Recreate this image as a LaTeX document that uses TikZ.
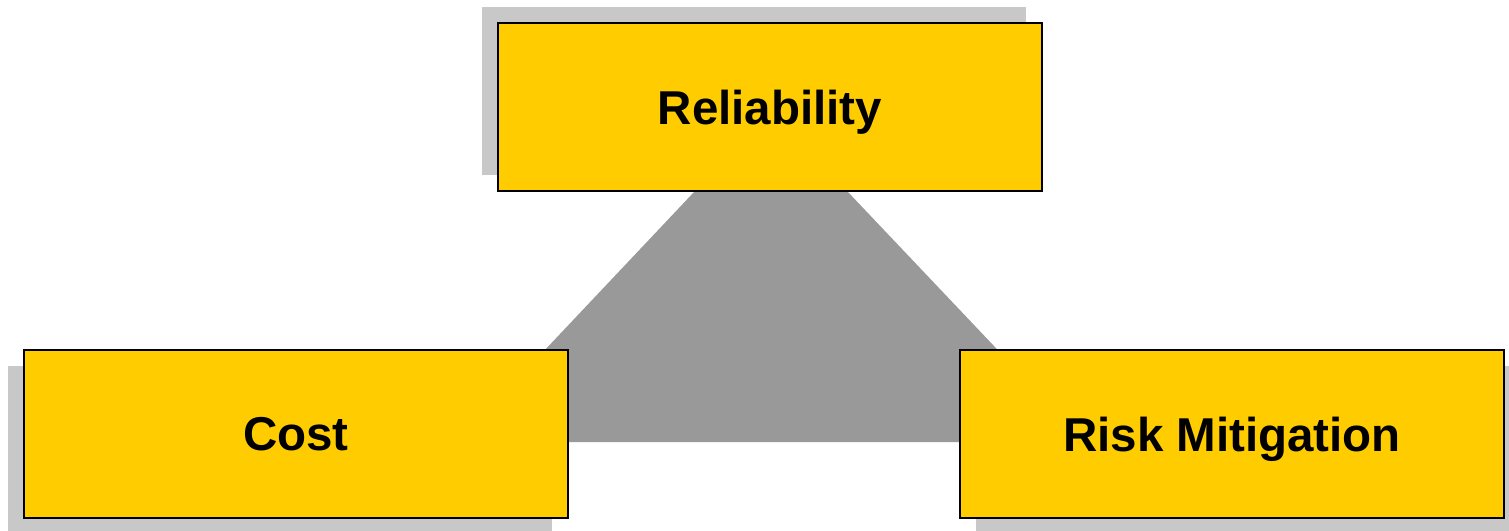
\documentclass[tikz,border=0pt]{standalone}
\usepackage{fontspec}
\setmainfont{Liberation Sans}
\definecolor{boxyellow}{HTML}{FFCC00}
\definecolor{shadowgray}{HTML}{C8C8C8}
\definecolor{trigray}{HTML}{999999}
\begin{document}
\begin{tikzpicture}[x=1pt,y=-1pt,
  box/.style={draw=black,line width=2.6pt,fill=boxyellow,minimum width=544pt,minimum height=168pt,inner sep=0pt,text depth=0pt,font=\fontsize{47.5}{56}\selectfont\bfseries},
  shadowbox/.style={fill=shadowgray,draw=none,minimum width=544pt,minimum height=168pt,inner sep=0pt}]
\useasboundingbox (0,0) rectangle (1509,530);
% shadows
\node[shadowbox] (rs) at (754,91) {};
\node[shadowbox] (cs) at (280,450) {};
\node[shadowbox] (ms) at (1248,450) {};
% gray triangle
\fill[trigray] (458,442) -- (695,191) -- (847,191) -- (1085,442) -- cycle;
% boxes
\node[box] (rel) at (770,107) {Reliability};
\node[box] (cost) at (296,434) {Cost};
\node[box] (risk) at (1232,434) {Risk Mitigation};
\end{tikzpicture}
\end{document}
